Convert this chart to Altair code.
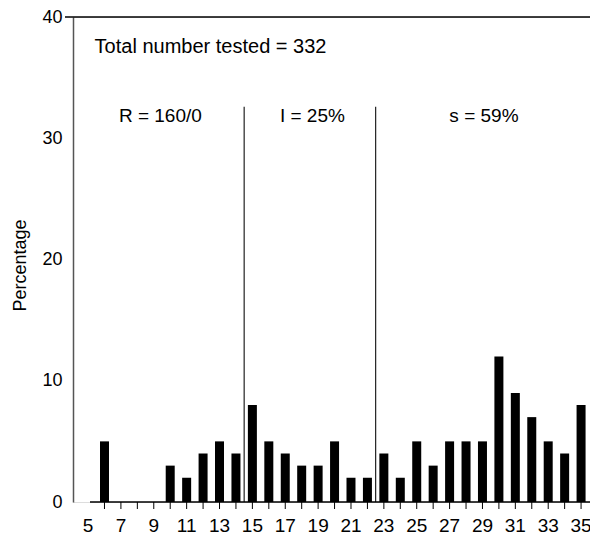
import altair as alt
import pandas as pd

# Data
zone_mm = list(range(6, 36))
percentage = [5, 0, 0, 0, 3, 2, 4, 5, 4, 8, 5, 4, 3, 3, 5, 2, 2, 4, 2, 5,
              3, 5, 5, 5, 12, 9, 7, 5, 4, 8]
x_label_values = list(range(5, 36, 2))
y_tick_values = [0, 10, 20, 30, 40]

divider_x = [14.5, 22.5]
divider_top = 32.6

ann_text = ["Total number tested = 332", "R = 160/0", "I = 25%", "s = 59%"]
ann_x = [5.40, 9.40, 18.65, 29.09]
ann_y = [37.5, 31.8, 31.8, 31.8]
ann_align = ["left", "center", "center", "center"]

W, H = 517, 485
FONT = "Liberation Sans"

bars_df = pd.DataFrame({"zone": zone_mm, "pct": percentage})
lab_df = pd.DataFrame({"v": x_label_values, "t": [str(v) for v in x_label_values]})
div_df = pd.DataFrame({"x": divider_x, "y": [0, 0], "y2": [divider_top] * 2})

xscale = alt.Scale(domain=[4.389, 35.239], nice=False, zero=False)
yscale = alt.Scale(domain=[0, 40], nice=False)

y_axis = alt.Axis(
    values=y_tick_values, ticks=False, tickSize=0, grid=False,
    domain=True, domainColor="#555", domainWidth=1.5,
    labelFontSize=18, labelFont=FONT, labelColor="black", labelPadding=11,
    title="Percentage", titleFont=FONT, titleFontSize=18, titleFontWeight="normal",
    titleColor="black", titleAngle=-90, titleX=-53, titleY=248,
    titleAlign="center", titleBaseline="middle",
)

bars = alt.Chart(bars_df).mark_bar(color="black", size=9).encode(
    x=alt.X("zone:Q", scale=xscale, axis=None),
    y=alt.Y("pct:Q", scale=yscale, axis=y_axis),
)

ticks = alt.Chart(bars_df).mark_rule(color="black", strokeWidth=1).encode(
    x=alt.X("zone:Q", scale=xscale),
    y=alt.value(H), y2=alt.value(H + 7),
)

xlabels = alt.Chart(lab_df).mark_text(font=FONT, fontSize=19, color="black",
                                      baseline="alphabetic", align="center").encode(
    x=alt.X("v:Q", scale=xscale),
    y=alt.value(H + 30),
    text="t:N",
)

dividers = alt.Chart(div_df).mark_rule(color="#222", strokeWidth=1.2).encode(
    x=alt.X("x:Q", scale=xscale),
    y=alt.Y("y:Q", scale=yscale),
    y2="y2:Q",
)

top_line = alt.Chart(pd.DataFrame({"v": [40]})).mark_rule(color="black", strokeWidth=1.3).encode(
    y=alt.Y("v:Q", scale=yscale),
    x=alt.value(-8), x2=alt.value(W),
)

x_line = alt.Chart(pd.DataFrame({"v": [0]})).mark_rule(color="black", strokeWidth=1.3).encode(
    y=alt.Y("v:Q", scale=yscale),
    x=alt.value(17), x2=alt.value(W),
)

text_layers = []
for t, x, y, a in zip(ann_text, ann_x, ann_y, ann_align):
    d = pd.DataFrame({"t": [t], "x": [x], "y": [y]})
    text_layers.append(
        alt.Chart(d).mark_text(font=FONT, fontSize=19 if a == "center" else 20,
                               color="black", baseline="middle", align=a).encode(
            x=alt.X("x:Q", scale=xscale),
            y=alt.Y("y:Q", scale=yscale),
            text="t:N",
        )
    )

chart = alt.layer(bars, ticks, xlabels, dividers, top_line, x_line, *text_layers).properties(
    width=W, height=H,
    autosize=alt.AutoSizeParams(type="none"),
    padding={"left": 65, "top": 9, "right": 0, "bottom": 37},
).configure_view(strokeWidth=0).configure(background="white")

chart.save("out.html", embed_options={"renderer": "svg", "actions": False})
